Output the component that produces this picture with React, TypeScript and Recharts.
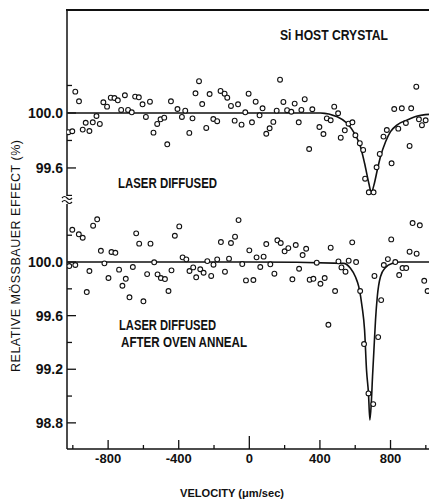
import React from 'react';
import { ComposedChart, Scatter, Line, XAxis, YAxis } from 'recharts';

// velocity channels (µm/sec) and relative effect (%)
const upperVelocity = [
  -1025, -1003, -986, -965, -944, -927, -906, -887, -866, -847, -827, -806, -785, -764, -745, -726, -705, -687, -666, -647,
  -626, -605, -586, -563, -543, -522, -503, -482, -465, -444, -407, -382, -363, -340, -322, -305, -285, -267, -244, -225,
  -204, -182, -163, -140, -125, -104, -83, -64, -44, -23, -4, 15, 36, 58, 75, 96, 115, 136, 155, 174,
  193, 214, 238, 257, 280, 295, 314, 339, 357, 397, 420, 439, 461, 481, 503, 518, 541, 562, 584, 601,
  626, 645, 656, 677, 704, 721, 739, 760, 779, 806, 821, 844, 864, 887, 908, 917, 946, 961, 978, 999,
];
const upperEffect = [
  99.86, 99.867, 100.155, 100.085, 99.879, 99.929, 99.869, 99.932, 99.978, 99.92, 100.078, 100.046, 100.111, 100.109, 100.092, 100.022, 100.129, 100.022, 100.005, 100.119,
  100.114, 100.063, 99.971, 100.082, 99.857, 99.92, 99.954, 99.966, 99.772, 100.085, 100.029, 99.971, 100.017, 99.855, 99.961, 100.143, 100.231, 100.065, 99.891, 100.138,
  99.956, 99.94, 100.16, 100.14, 100.111, 100.051, 99.944, 100.063, 99.915, 100.005, 100.14, 99.932, 100.082, 99.983, 100.034, 99.849, 99.889, 99.935, 100.017, 100.242,
  100.08, 100.02, 100.009, 100.068, 99.932, 100.022, 100.1, 99.738, 100.027, 99.898, 99.847, 99.961, 99.947, 100.046, 99.998, 99.82, 99.874, 99.922, 99.932, 99.838,
  99.78, 99.731, 99.522, 99.423, 99.423, 99.605, 99.702, 99.828, 99.876, 99.634, 100.029, 99.886, 100.034, 99.927, 99.76, 100.034, 100.191, 99.954, 99.911, 99.947,
];
const upperFitVelocity = [-1030, 0, 403, 498, 554, 601, 630, 653, 677, 691, 709, 725, 743, 772, 800, 838, 895, 952, 1018];
const upperFitEffect = [100.0, 100.0, 100.0, 99.973, 99.925, 99.84, 99.755, 99.634, 99.489, 99.423, 99.491, 99.585, 99.682, 99.791, 99.864, 99.913, 99.949, 99.978, 99.99];

const lowerVelocity = [
  -1020, -1003, -986, -966, -944, -921, -906, -885, -862, -841, -821, -798, -781, -759, -738, -719, -700, -679, -660, -641,
  -624, -600, -579, -560, -539, -520, -501, -478, -458, -441, -422, -397, -378, -357, -339, -318, -301, -278, -259, -238,
  -216, -203, -182, -161, -138, -115, -104, -81, -61, -40, -19, 0, 23, 41, 62, 81, 96, 119, 142, 159,
  178, 200, 221, 244, 263, 282, 302, 322, 342, 363, 382, 403, 427, 448, 461, 486, 505, 522, 545, 563,
  583, 605, 628, 650, 675, 702, 709, 730, 747, 762, 785, 804, 827, 849, 868, 889, 908, 925, 948, 966,
  991, 1010,
];
const lowerEffect = [
  99.97, 100.241, 99.978, 100.207, 100.181, 99.776, 99.933, 100.271, 100.319, 100.084, 99.99, 99.881, 100.075, 100.069, 99.943, 99.823, 99.875, 99.737, 99.963, 100.214,
  100.137, 99.707, 99.91, 100.137, 99.998, 99.908, 99.881, 99.873, 99.784, 99.938, 100.196, 100.266, 100.035, 100.02, 99.933, 99.96, 99.886, 99.946, 99.92, 100.007,
  99.896, 99.98, 100.02, 100.149, 99.928, 100.025, 100.142, 100.189, 100.313, 99.985, 99.863, 100.087, 99.866, 100.035, 99.963, 100.04, 100.134, 99.983, 99.913, 100.162,
  100.142, 100.08, 100.104, 99.871, 100.127, 99.95, 100.052, 100.099, 99.868, 99.875, 99.995, 99.838, 99.881, 99.532, 100.107, 99.784, 100.005, 99.96, 99.928, 100.01,
  100.147, 100.0, 99.784, 99.388, 99.02, 98.94, 99.896, 99.44, 99.716, 99.978, 100.022, 100.169, 100.0, 99.903, 99.955, 99.955, 100.077, 100.291, 100.062, 100.274,
  99.86, 99.784,
];
const lowerFitVelocity = [-1030, 0, 535, 573, 601, 620, 639, 653, 664, 675, 683, 691, 698, 705, 715, 725, 743, 772, 810, 857, 1018];
const lowerFitEffect = [100.0, 100.0, 99.99, 99.953, 99.89, 99.816, 99.666, 99.493, 99.194, 99.022, 98.821, 98.948, 99.144, 99.319, 99.567, 99.741, 99.89, 99.96, 99.99, 100.0, 100.0];

const velocityTicks = [-1000, -800, -600, -400, -200, 0, 200, 400, 600, 800, 1000];
const velocityLabels = [-800, -400, 0, 400, 800];
const upperTicks = [99.4, 99.6, 99.8, 100.0, 100.2];
const upperLabels = ['99.6', '100.0'];
const lowerTicks = [98.8, 99.0, 99.2, 99.4, 99.6, 99.8, 100.0, 100.2];
const lowerLabels = ['98.8', '99.2', '99.6', '100.0'];

const UPPER_DOMAIN: [number, number] = [99.396, 100.749];
const LOWER_DOMAIN: [number, number] = [98.605, 100.433];
const X_DOMAIN: [number, number] = [-1033, 1018];

const toPoints = (v: number[], e: number[]) => v.map((x, i) => ({ v: x, e: e[i] }));

const FONT = '"Liberation Sans", Arial, sans-serif';

const OpenCircle = (props: any) => (
  <circle cx={props.cx} cy={props.cy} r={2.4} fill="#fff" stroke="#111" strokeWidth={1.1} />
);

const makeYTick = (labels: string[]) => (props: any) => {
  const { x, y, payload } = props;
  const txt = Number(payload.value).toFixed(1);
  const major = labels.includes(txt);
  return (
    <g>
      <line x1={x} x2={x + (major ? 9 : 5)} y1={y} y2={y} stroke="#111" strokeWidth={1.3} />
      {major && (
        <text x={x - 4} y={y + 5} textAnchor="end" fontSize={14} fontWeight="bold" fontFamily={FONT} fill="#111">
          {txt}
        </text>
      )}
    </g>
  );
};

const VelocityTick = (props: any) => {
  const { x, y, payload } = props;
  const major = velocityLabels.includes(payload.value);
  const len = payload.value === 0 ? 13 : major ? 9 : 4;
  return (
    <g>
      <line x1={x} x2={x} y1={y} y2={y - len} stroke="#111" strokeWidth={1.3} />
      {major && (
        <text x={x} y={y + 14} textAnchor="middle" fontSize={13} fontWeight="bold" fontFamily={FONT} fill="#111">
          {payload.value}
        </text>
      )}
    </g>
  );
};

export default function App() {
  const axisLine = { stroke: '#111', strokeWidth: 1.5 };
  return (
    <div style={{ position: 'absolute', left: 0, top: 0, width: 429, height: 500, background: '#fff' }}>
      <div style={{ position: 'absolute', left: 0, top: 0 }}>
        <ComposedChart width={429} height={196} margin={{ top: 10, right: 0, bottom: 0, left: 0 }}>
          <XAxis type="number" dataKey="v" domain={X_DOMAIN} allowDataOverflow hide />
          <YAxis
            type="number"
            dataKey="e"
            domain={UPPER_DOMAIN}
            allowDataOverflow
            ticks={upperTicks}
            interval={0}
            width={67}
            tickSize={0}
            tickMargin={0}
            tickLine={false}
            axisLine={axisLine}
            tick={makeYTick(upperLabels)}
          />
          <Scatter data={toPoints(upperVelocity, upperEffect)} dataKey="e" shape={OpenCircle} isAnimationActive={false} />
          <Line
            data={toPoints(upperFitVelocity, upperFitEffect)}
            dataKey="e"
            type="monotone"
            stroke="#111"
            strokeWidth={1.6}
            dot={false}
            isAnimationActive={false}
          />
        </ComposedChart>
      </div>
      <div style={{ position: 'absolute', left: 0, top: 204 }}>
        <ComposedChart width={429} height={296} margin={{ top: 0, right: 0, bottom: 0, left: 0 }}>
          <XAxis
            type="number"
            dataKey="v"
            domain={X_DOMAIN}
            allowDataOverflow
            ticks={velocityTicks}
            interval={0}
            height={51}
            tickSize={0}
            tickMargin={0}
            tickLine={false}
            axisLine={axisLine}
            tick={VelocityTick}
          />
          <YAxis
            type="number"
            dataKey="e"
            domain={LOWER_DOMAIN}
            allowDataOverflow
            ticks={lowerTicks}
            interval={0}
            width={67}
            tickSize={0}
            tickMargin={0}
            tickLine={false}
            axisLine={axisLine}
            tick={makeYTick(lowerLabels)}
          />
          <Scatter data={toPoints(lowerVelocity, lowerEffect)} dataKey="e" shape={OpenCircle} isAnimationActive={false} />
          <Line
            data={toPoints(lowerFitVelocity, lowerFitEffect)}
            dataKey="e"
            type="monotone"
            stroke="#111"
            strokeWidth={1.6}
            dot={false}
            isAnimationActive={false}
          />
        </ComposedChart>
      </div>
      <svg width={429} height={500} style={{ position: 'absolute', left: 0, top: 0, pointerEvents: 'none' }}>
        {/* top frame of the upper panel */}
        <rect x={66} y={9} width={363} height={2} fill="#111" />
        <g fill="#111" fontFamily={FONT} fontWeight="bold" fontSize={15}>
          <text x={280} y={40} textLength={108} lengthAdjust="spacingAndGlyphs">Si HOST CRYSTAL</text>
          <text x={118} y={188} textLength={99} lengthAdjust="spacingAndGlyphs">LASER DIFFUSED</text>
          <text x={119} y={330} textLength={97} lengthAdjust="spacingAndGlyphs">LASER DIFFUSED</text>
          <text x={121} y={347} textLength={126} lengthAdjust="spacingAndGlyphs">AFTER OVEN ANNEAL</text>
        </g>
        <text
          transform="translate(20,256) rotate(-90)"
          textAnchor="middle"
          fontFamily={FONT}
          fontSize={12.5}
          fill="#111"
          textLength={232}
          lengthAdjust="spacing"
        >
          RELATIVE MÖSSBAUER EFFECT (%)
        </text>
        <text x={232} y={497} textAnchor="middle" fontFamily={FONT} fontWeight="bold" fontSize={11} fill="#111" textLength={104} lengthAdjust="spacingAndGlyphs">
          VELOCITY (μm/sec)
        </text>
        <g fill="none" stroke="#111" strokeWidth={1.2}>
          <path d="M62,198 q2.5,-3 5,0 t5,0" />
          <path d="M62,202 q2.5,-3 5,0 t5,0" />
        </g>
      </svg>
    </div>
  );
}
